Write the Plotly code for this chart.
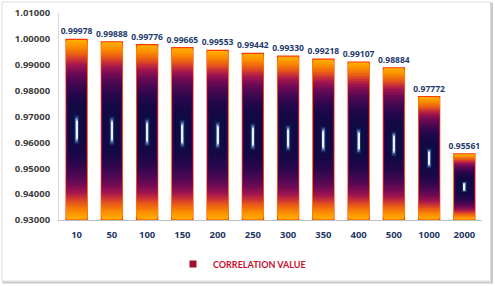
import plotly.graph_objects as go

categories = ["10", "50", "100", "150", "200", "250", "300", "350", "400", "500", "1000", "2000"]
values = [0.99978, 0.99888, 0.99776, 0.99665, 0.99553, 0.99442, 0.99330, 0.99218, 0.99107, 0.98884, 0.97772, 0.95561]
value_labels = ["0.99978", "0.99888", "0.99776", "0.99665", "0.99553", "0.99442", "0.99330", "0.99218", "0.99107", "0.98884", "0.97772", "0.95561"]
y_ticks = [0.93, 0.94, 0.95, 0.96, 0.97, 0.98, 0.99, 1.00, 1.01]
series_name = "CORRELATION VALUE"

Y0 = 0.93

# gradient colour stops (fraction inset from bar edge -> colour)
stops = [
    (0.00, (255, 176, 0)),
    (0.04, (250, 138, 0)),
    (0.08, (232, 90, 24)),
    (0.11, (200, 48, 56)),
    (0.14, (158, 20, 80)),
    (0.18, (112, 10, 85)),
    (0.23, (72, 8, 82)),
    (0.29, (40, 7, 76)),
    (0.35, (22, 8, 70)),
    (0.42, (14, 12, 66)),
]
width_stops = [(0.0, 0.60), (0.1, 0.585), (0.2, 0.555), (0.3, 0.51), (0.42, 0.38)]


def interp(t, st):
    for (a, ca), (b, cb) in zip(st, st[1:]):
        if a <= t <= b:
            f = (t - a) / (b - a)
            if isinstance(ca, tuple):
                return tuple(ca[k] + (cb[k] - ca[k]) * f for k in range(3))
            return ca + (cb - ca) * f
    return st[-1][1]


layers = []
n = 43
for i in range(n):
    t = 0.42 * i / (n - 1)
    c = interp(t, stops)
    w = interp(t, width_stops)
    layers.append((t * 1.08, t, w, "rgb(%d,%d,%d)" % tuple(int(round(x)) for x in c)))
# highlight glow
layers += [
    (0.42, 0.42, 0.13, "#1C2660"),
    (0.43, 0.43, 0.09, "#43609C"),
    (0.44, 0.44, 0.06, "#93B0DA"),
    (0.45, 0.45, 0.032, "#E8F2FC"),
]

fig = go.Figure()
for i, (fb, ft, w, c) in enumerate(layers):
    bases = [Y0 + fb * (v - Y0) for v in values]
    heights = [(1 - fb - ft) * (v - Y0) for v in values]
    if i == 0:
        kw = dict(text=value_labels, textposition="outside", constraintext="none",
                  textfont=dict(family="Open Sans", size=8.5, color="#1F3B6E", weight="bold"),
                  cliponaxis=False,
                  marker=dict(color=c, line=dict(color="#FF3A00", width=1.2)))
    else:
        kw = dict(marker=dict(color=c, line=dict(width=0)))
    fig.add_trace(go.Bar(x=categories, y=heights, base=bases, width=w,
                         showlegend=False, hoverinfo="skip", **kw))

fig.add_trace(go.Scatter(x=[None], y=[None], mode="markers", name=series_name,
                         marker=dict(symbol="square", size=7, color="#A0102A"),
                         showlegend=True))

W, H = 495, 286
L, R, T, B = 59, 13, 13, 66
pw, ph = W - L - R, H - T - B


def px(x):
    return (x - L) / pw


def py(y):
    return (H - B - y) / ph


fig.add_shape(type="rect", xref="paper", yref="paper",
              x0=px(3.5), x1=px(492), y0=py(282.5), y1=py(3.5),
              line=dict(color="#C8C8C8", width=2), layer="below")
fig.add_shape(type="rect", xref="paper", yref="paper",
              x0=px(2), x1=px(490.5), y0=py(281), y1=py(2),
              line=dict(color="#DDDDDD", width=1), fillcolor="white", layer="below")

fig.update_layout(
    width=W, height=H,
    margin=dict(l=L, r=R, t=T, b=B, autoexpand=False),
    paper_bgcolor="white", plot_bgcolor="white",
    barmode="overlay",
    showlegend=True,
    legend=dict(orientation="h", xref="container", yref="container",
                x=173 / W, xanchor="left", y=1 - 264 / H, yanchor="middle",
                font=dict(family="Lato", size=9, color="#C8102E", weight="bold"),
                itemwidth=30, bgcolor="rgba(0,0,0,0)"),
    xaxis=dict(showline=True, linecolor="#BFBFBF", linewidth=1, ticks="",
               tickfont=dict(family="Open Sans", size=9.5, color="#1F3864", weight="bold"),
               ticklabelstandoff=6, automargin=False,
               showgrid=False, fixedrange=True),
    yaxis=dict(range=[0.93, 1.01], tickvals=y_ticks, tickformat=".5f",
               showline=True, linecolor="#D9D9D9", linewidth=1, ticks="",
               showgrid=False, zeroline=False, automargin=False,
               tickfont=dict(family="Open Sans", size=9.5, color="#404040", weight="bold"),
               ticklabelstandoff=6),
)

fig.write_html("out.html", config={"displayModeBar": False},
               post_script="document.body.style.margin='0';document.body.style.overflow='hidden';")
